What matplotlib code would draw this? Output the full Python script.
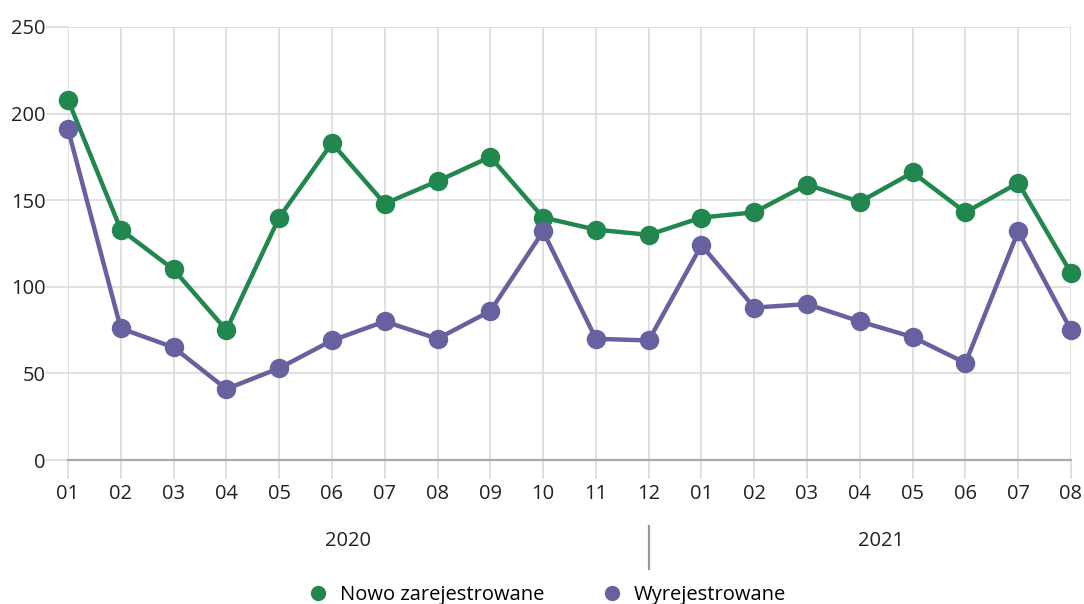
import matplotlib
matplotlib.use("Agg")
from matplotlib import pyplot as plt
from matplotlib.lines import Line2D

# dane
miesiace = ['01', '02', '03', '04', '05', '06', '07', '08', '09', '10', '11', '12',
            '01', '02', '03', '04', '05', '06', '07', '08']
nowo = [208, 133, 110, 75, 140, 183, 148, 161, 175, 140, 133, 130,
        140, 143, 159, 149, 166, 143, 160, 108]
wyrej = [191, 76, 65, 41, 53, 69, 80, 70, 86, 132, 70, 69,
         124, 88, 90, 80, 71, 56, 132, 75]
lata = ['2020', '2021']

zielony = '#22874f'
fiolet = '#67629f'

plt.rcParams['font.family'] = ['Open Sans', 'DejaVu Sans']

fig = plt.figure(figsize=(10.84, 6.04), dpi=100)
ax = fig.add_axes([68/1084, 1 - 460/604, (1071-68)/1084, (460-27)/604])

x = list(range(len(miesiace)))
ax.plot(x, nowo, color=zielony, lw=3.2, marker='o', ms=13, zorder=3, clip_on=False)
ax.plot(x, wyrej, color=fiolet, lw=3.2, marker='o', ms=13, zorder=3, clip_on=False)

ax.set_xlim(0, len(miesiace) - 1)
ax.set_ylim(0, 250)
ax.set_yticks([0, 50, 100, 150, 200, 250])
ax.set_xticks(x)
ax.set_xticklabels(miesiace)
ax.grid(True, color='#dddddd', lw=1.3, zorder=0)
for s in ['top', 'right', 'left']:
    ax.spines[s].set_visible(False)
ax.spines['bottom'].set_color('#aaaaaa')
ax.spines['bottom'].set_linewidth(1.6)
ax.tick_params(axis='x', length=14, color='#dddddd', width=1.3, labelsize=14.5, pad=3, labelcolor='#222222')
ax.tick_params(axis='y', length=16, color='#dddddd', width=1.3, labelsize=14.5, pad=0, labelcolor='#222222')

# lata pod osia
ax.text(5.3, -47, lata[0], ha='center', va='center', fontsize=14.5, color='#222222')
ax.text(15.4, -47, lata[1], ha='center', va='center', fontsize=14.5, color='#222222')
ax.plot([11, 11], [-38, -63], color='#999999', lw=1.6, clip_on=False)

uchwyty = [Line2D([], [], ls='none', marker='o', ms=10, color=zielony),
           Line2D([], [], ls='none', marker='o', ms=10, color=fiolet)]
fig.legend(uchwyty, ['Nowo zarejestrowane', 'Wyrejestrowane'], loc='lower center',
           ncol=2, frameon=False, fontsize=14.5, handletextpad=0.05, columnspacing=2.4,
           bbox_to_anchor=(0.5, -0.032))

fig.savefig('out.png', dpi=100)
